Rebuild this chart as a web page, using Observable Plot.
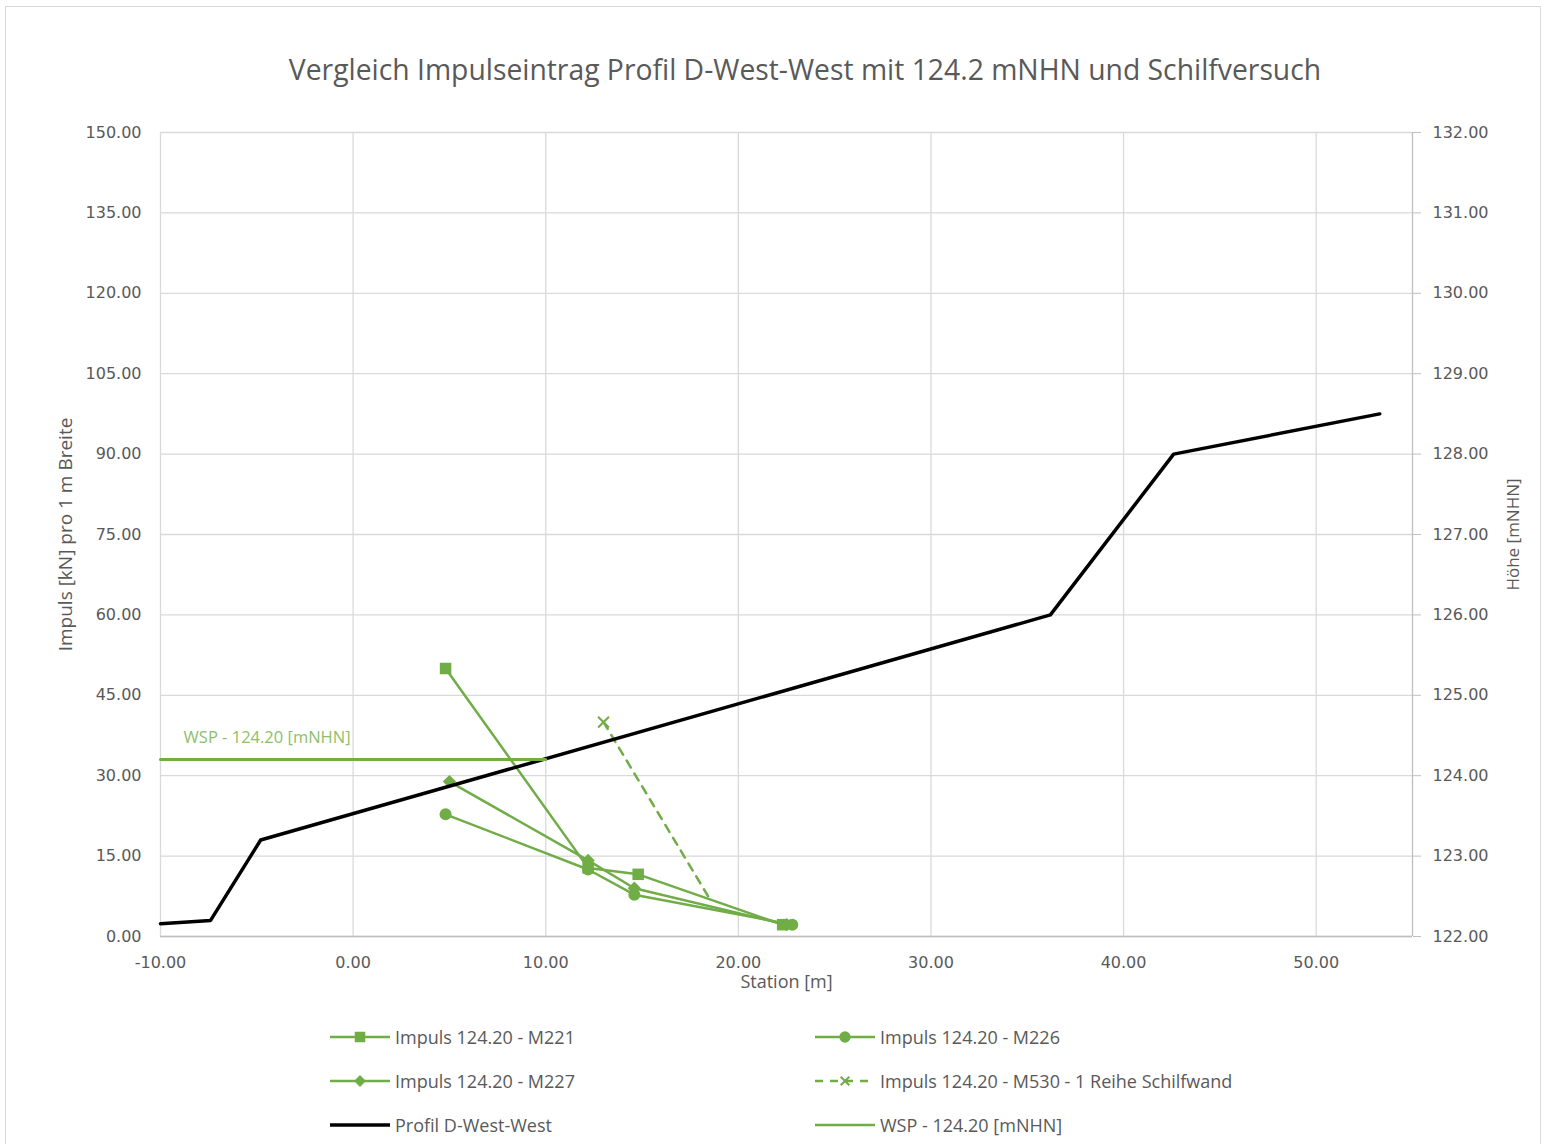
<!DOCTYPE html>
<html><head><meta charset="utf-8">
<script src="https://cdn.jsdelivr.net/npm/d3@7"></script>
<script src="https://cdn.jsdelivr.net/npm/@observablehq/plot@0.6"></script>
<style>
body{margin:0;background:#fff;}
#wrap{position:relative;width:1546px;height:1144px;overflow:hidden;background:#fff;}
#frame{position:absolute;left:5px;top:6px;width:1536px;height:1160px;border:1.5px solid #d9d9d9;box-sizing:border-box;}
#title{position:absolute;top:50px;left:0;width:1610px;text-align:center;font-family:"Open Sans",sans-serif;font-size:28.3px;color:#595959;white-space:nowrap;}
#chart{position:absolute;left:0;top:0;}
.leg{position:absolute;display:flex;align-items:center;font-family:"Open Sans",sans-serif;font-size:18px;color:#595959;white-space:nowrap;}
.leg svg{margin-right:5px;}
</style></head>
<body><div id="wrap"><div id="frame"></div><div id="title">Vergleich Impulseintrag  Profil D-West-West mit 124.2 mNHN und Schilfversuch</div><div id="chart"></div></div>
<script>
// ---- data ----
const stationProfil = [-10, -7.4, -4.8, 36.2, 42.6, 53.3];
const hoeheProfil   = [122.16, 122.2, 123.2, 126.0, 128.0, 128.5];

const stationWSP = [-10, 10];
const hoeheWSP   = [124.2, 124.2];

const stationM221 = [4.8, 12.2, 14.8, 22.3];
const impulsM221  = [50.0, 12.8, 11.6, 2.2];
const stationM226 = [4.8, 12.2, 14.6, 22.8];
const impulsM226  = [22.8, 12.5, 7.8, 2.2];
const stationM227 = [5.0, 12.2, 14.6, 22.5];
const impulsM227  = [28.9, 14.2, 9.0, 2.2];
const stationM530 = [13.0, 18.6];
const impulsM530  = [40.0, 6.5];

const xTicks = [-10, 0, 10, 20, 30, 40, 50];
const yTicks = [0, 15, 30, 45, 60, 75, 90, 105, 120, 135, 150];
const h0 = 122, hPerUnit = 15; // right axis: 122..132 mapped onto 0..150

const names = {
  m221: "Impuls 124.20 - M221",
  m226: "Impuls 124.20 - M226",
  m227: "Impuls 124.20 - M227",
  m530: "Impuls 124.20 - M530 - 1 Reihe Schilfwand",
  prof: "Profil D-West-West",
  wsp:  "WSP - 124.20 [mNHN]"
};
const green = "#70ad47";

const zip = (xs, ys) => xs.map((x, i) => ({x, y: ys[i]}));
const profil = zip(stationProfil, hoeheProfil);
const wsp = zip(stationWSP, hoeheWSP);
const m221 = zip(stationM221, impulsM221);
const m226 = zip(stationM226, impulsM226);
const m227 = zip(stationM227, impulsM227);
const m530 = zip(stationM530, impulsM530);
const hy = d => (d.y - h0) * hPerUnit;

const plot = Plot.plot({
  width: 1546, height: 1000,
  marginTop: 132, marginBottom: 64, marginLeft: 160, marginRight: 134,
  style: {fontFamily: "DejaVu Sans", fontSize: "16px", color: "#595959", background: "transparent"},
  x: {domain: [-10, 55]},
  y: {domain: [0, 150]},
  marks: [
    Plot.gridX(xTicks, {stroke: "#d9d9d9", strokeOpacity: 1, strokeWidth: 1.3}),
    Plot.gridY(yTicks, {stroke: "#d9d9d9", strokeOpacity: 1, strokeWidth: 1.3}),
    Plot.ruleY([0], {stroke: "#bfbfbf", strokeWidth: 1.3}),
    Plot.ruleX([55], {stroke: "#bfbfbf", strokeWidth: 1.3}),
    Plot.axisX(xTicks, {tickSize: 0, tickPadding: 20, tickFormat: d => d.toFixed(2), label: null, fill: "#595959"}),
    Plot.axisY(yTicks, {anchor: "left", tickSize: 0, tickPadding: 19, tickFormat: d => d.toFixed(2), label: null, fill: "#595959"}),
    Plot.axisY(yTicks, {anchor: "right", tickSize: 8, tickPadding: 12, stroke: "#bfbfbf", tickFormat: d => (h0 + d / hPerUnit).toFixed(2), label: null, fill: "#595959"}),
    // axis titles
    Plot.text(["Impuls [kN] pro 1 m Breite"], {frameAnchor: "left", textAnchor: "middle", dx: -95, rotate: -90, fontFamily: "Open Sans", fontSize: 19, fill: "#595959"}),
    Plot.text(["Höhe [mNHN]"], {frameAnchor: "right", textAnchor: "middle", dx: 101, rotate: -90, fontFamily: "Open Sans", fontSize: 17, fill: "#595959"}),
    Plot.text(["Station [m]"], {frameAnchor: "bottom", dy: 51, fontFamily: "Open Sans", fontSize: 18, fill: "#595959"}),
    // series
    Plot.line(m221, {x: "x", y: "y", stroke: green, strokeWidth: 2.5}),
    Plot.line(m226, {x: "x", y: "y", stroke: green, strokeWidth: 2.5}),
    Plot.line(m227, {x: "x", y: "y", stroke: green, strokeWidth: 2.5}),
    Plot.line(m530, {x: "x", y: "y", stroke: green, strokeWidth: 2.5, strokeDasharray: "8,7"}),
    Plot.dot(m221, {x: "x", y: "y", symbol: "square", r: 6.5, fill: green}),
    Plot.dot(m226, {x: "x", y: "y", symbol: "circle", r: 6, fill: green}),
    Plot.dot(m227, {x: "x", y: "y", symbol: "diamond2", r: 6, fill: green}),
    Plot.dot(m530.slice(0, 1), {x: "x", y: "y", symbol: "times", r: 5, stroke: green, strokeWidth: 2}),
    Plot.line(profil, {x: "x", y: hy, stroke: "#000", strokeWidth: 3.5}),
    Plot.line(wsp, {x: "x", y: hy, stroke: green, strokeWidth: 3}),
    Plot.text([names.wsp], {x: () => -8.8, y: () => (124.2 - h0) * hPerUnit, dy: -22, textAnchor: "start", fontFamily: "Open Sans", fontSize: 16.5, fill: "#8cc06a"})
  ]
});
document.getElementById("chart").appendChild(plot);

// ---- legend ----
const legendItems = [
  {key: "m221", col: 0, row: 0, sym: "square"},
  {key: "m226", col: 1, row: 0, sym: "circle"},
  {key: "m227", col: 0, row: 1, sym: "diamond"},
  {key: "m530", col: 1, row: 1, sym: "times"},
  {key: "prof", col: 0, row: 2, sym: null},
  {key: "wsp",  col: 1, row: 2, sym: null}
];
const colX = [330, 815], rowY = [1037, 1081, 1125];
const wrap = document.getElementById("wrap");
for (const it of legendItems) {
  const div = document.createElement("div");
  div.className = "leg";
  div.style.left = colX[it.col] + "px";
  div.style.top = (rowY[it.row] - 12) + "px";
  const stroke = it.key === "prof" ? "#000" : green;
  const sw = it.key === "prof" ? 3.5 : 2.5;
  let marker = "";
  if (it.sym === "square") marker = `<path transform="translate(30,12)" d="${d3.symbol(d3.symbolSquare, 110)()}" fill="${green}"/>`;
  if (it.sym === "circle") marker = `<path transform="translate(30,12)" d="${d3.symbol(d3.symbolCircle, 100)()}" fill="${green}"/>`;
  if (it.sym === "diamond") marker = `<path transform="translate(30,12)" d="${d3.symbol(d3.symbolDiamond2, 90)()}" fill="${green}"/>`;
  if (it.sym === "times") marker = `<path transform="translate(30,12)" d="${d3.symbol(d3.symbolTimes, 50)()}" fill="none" stroke="${green}" stroke-width="2"/>`;
  const dash = it.key === "m530" ? ' stroke-dasharray="8,7"' : "";
  const lineEl = `<line x1="0" x2="60" y1="12" y2="12" stroke="${stroke}" stroke-width="${sw}"${dash}/>`;
  div.innerHTML = `<svg width="60" height="24">${lineEl}${marker}</svg><span>${names[it.key]}</span>`;
  wrap.appendChild(div);
}
</script>
</body></html>
